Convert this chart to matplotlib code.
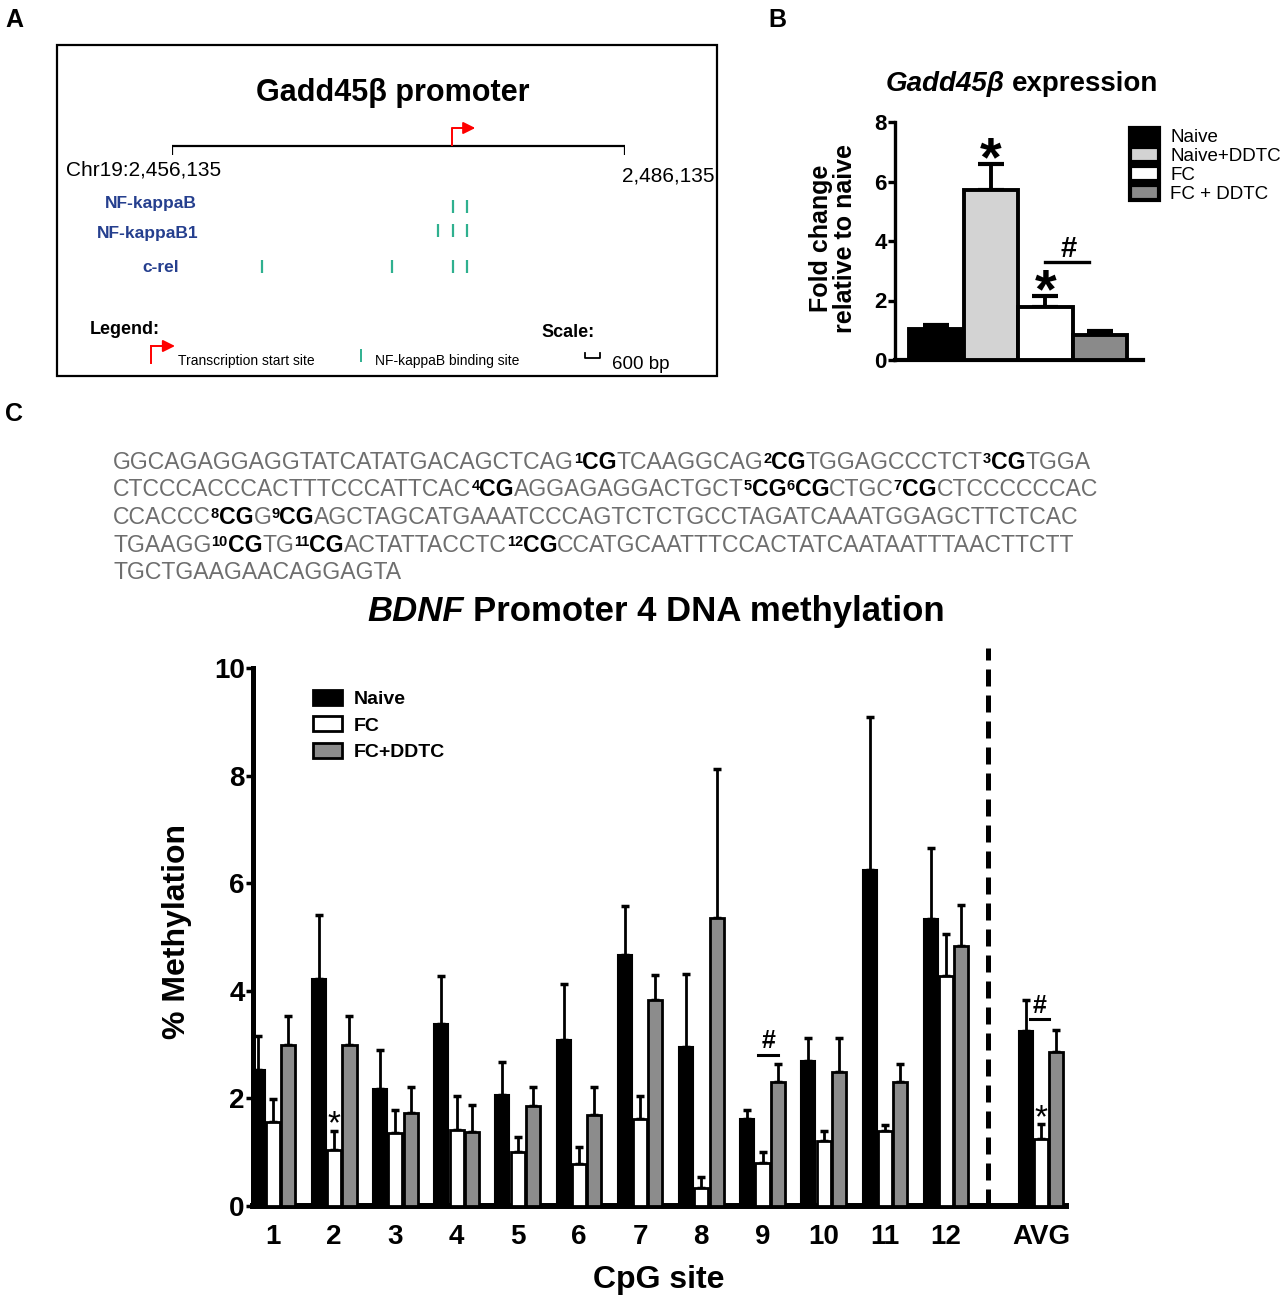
import re
import matplotlib
matplotlib.use('Agg')
import matplotlib.pyplot as plt
import matplotlib.transforms as mtransforms
from matplotlib.patches import Patch, Rectangle
import numpy as np

plt.rcParams['font.family'] = ['Liberation Sans', 'DejaVu Sans']

W, H = 1287, 1300

# ---- A: Gadd45b promoter region (bp on chr19)
region = (2456135, 2486135)
tss = 2474670
scale_bp = 600
nfkb_sites = [2474740, 2475670]
nfkb1_sites = [2473750, 2474740, 2475670]
crel_sites = [2462095, 2470700, 2474740, 2475670]
track_names = ['NF-kappaB', 'NF-kappaB1', 'c-rel']

# ---- B: Gadd45b expression
b_groups = ['Naive', 'Naive+DDTC', 'FC', 'FC + DDTC']
b_mean = [1.05, 5.73, 1.77, 0.84]
b_sem = [0.11, 0.87, 0.38, 0.13]
b_colors = ['black', '#d3d3d3', 'white', '#8a8a8a']

# ---- C: BDNF promoter 4 methylation
cpg_labels = [str(i) for i in range(1, 13)] + ['AVG']
naive_mean = [2.52, 4.22, 2.18, 3.38, 2.07, 3.08, 4.66, 2.95, 1.61, 2.70, 6.25, 5.33, 3.25]
naive_sem = [0.64, 1.18, 0.72, 0.89, 0.61, 1.04, 0.92, 1.37, 0.18, 0.43, 2.83, 1.32, 0.58]
fc_mean = [1.56, 1.05, 1.36, 1.42, 1.00, 0.78, 1.62, 0.33, 0.79, 1.20, 1.40, 4.27, 1.25]
fc_sem = [0.43, 0.34, 0.43, 0.62, 0.28, 0.32, 0.43, 0.20, 0.21, 0.19, 0.11, 0.78, 0.28]
ddtc_mean = [3.00, 3.00, 1.73, 1.37, 1.85, 1.70, 3.83, 5.35, 2.30, 2.50, 2.30, 4.84, 2.86]
ddtc_sem = [0.54, 0.54, 0.49, 0.51, 0.37, 0.52, 0.46, 2.77, 0.34, 0.62, 0.34, 0.76, 0.42]
c_series = ['Naive', 'FC', 'FC+DDTC']

# [n] = superscript n followed by a bold CG
seq_lines = [
    "GGCAGAGGAGGTATCATATGACAGCTCAG[1]TCAAGGCAG[2]TGGAGCCCTCT[3]TGGA",
    "CTCCCACCCACTTTCCCATTCAC[4]AGGAGAGGACTGCT[5][6]CTGC[7]CTCCCCCCAC",
    "CCACCC[8]G[9]AGCTAGCATGAAATCCCAGTCTCTGCCTAGATCAAATGGAGCTTCTCAC",
    "TGAAGG[10]TG[11]ACTATTACCTC[12]CCATGCAATTTCCACTATCAATAATTTAACTTCTT",
    "TGCTGAAGAACAGGAGTA",
]

fig = plt.figure(figsize=(W / 100, H / 100), dpi=100)
ov = fig.add_axes([0, 0, 1, 1])
ov.set_xlim(0, W)
ov.set_ylim(H, 0)
ov.axis('off')
renderer = fig.canvas.get_renderer()


def px_axes(x0, y0, x1, y1):
    a = fig.add_axes([x0 / W, 1 - y1 / H, (x1 - x0) / W, (y1 - y0) / H])
    a.patch.set_alpha(0)
    return a


def rich_text(x, y, pieces, ha='left', gap=0.0):
    arts = []
    for s, kw in pieces:
        kw = dict(kw)
        dy = kw.pop('dy', 0)
        arts.append(ov.text(x, y - dy, s, va='baseline', ha='left', **kw))
    widths = [a.get_window_extent(renderer).width for a in arts]
    total = sum(widths) + gap * (len(arts) - 1)
    start = x - total / 2 if ha == 'center' else x
    for a, w in zip(arts, widths):
        a.set_x(start)
        start += w + gap


def star(ax, x, yc, size, weight='bold', k=0.45):
    tr = mtransforms.offset_copy(ax.transData, fig=fig, y=-k * size, units='points')
    ax.text(x, yc, '*', fontsize=size, ha='center', va='baseline', weight=weight,
            transform=tr, clip_on=False)


# panel letters
ov.text(5, 27, 'A', fontsize=18, weight='bold')
ov.text(768, 27, 'B', fontsize=18, weight='bold')
ov.text(5, 421, 'C', fontsize=18, weight='bold')

# ---------------- A
ov.add_patch(Rectangle((57, 45), 660, 331, fill=False, lw=1.6, ec='black'))
ov.text(393, 101, 'Gadd45β promoter', ha='center', va='baseline', fontsize=22, weight='bold')

ax_a = px_axes(172, 40, 625, 380)
ax_a.set_xlim(*region)
ax_a.set_ylim(380, 40)
ax_a.axis('off')
ax_a.hlines(146, *region, color='black', lw=1.6)
ax_a.vlines(region, 146, 155, color='black', lw=1.6)
ax_a.vlines(tss, 128, 146, color='red', lw=1.4)
ax_a.annotate('', xy=(tss + 1550, 128), xytext=(tss, 128),
              arrowprops=dict(arrowstyle='-|>', color='red', lw=1.4, mutation_scale=18,
                              shrinkA=0, shrinkB=0))
teal = '#2fb08f'
row_y = [206, 230, 266]
for sites, yc in zip([nfkb_sites, nfkb1_sites, crel_sites], row_y):
    ax_a.vlines(sites, yc - 6.5, yc + 6.5, color=teal, lw=1.6)

navy = '#253f8e'
for name, lx, ly in zip(track_names, [151, 148, 161], [208, 238, 272]):
    ov.text(lx, ly, name, ha='center', va='baseline', color=navy, fontsize=12.5, weight='bold')

ov.text(66, 175, f'Chr19:{region[0]:,}', fontsize=15, va='baseline')
ov.text(622, 182, f'{region[1]:,}', fontsize=15, va='baseline')

ov.text(90, 334, 'Legend:', fontsize=13, weight='bold', va='baseline')
ov.plot([151, 151], [363, 346], color='red', lw=1.4)
ov.annotate('', xy=(175, 346), xytext=(151, 346),
            arrowprops=dict(arrowstyle='-|>', color='red', lw=1.4, mutation_scale=18,
                            shrinkA=0, shrinkB=0))
ov.text(178, 365, 'Transcription start site', fontsize=10, va='baseline')
ov.vlines(361, 349, 362, color=teal, lw=1.4)
ov.text(375, 365, 'NF-kappaB binding site', fontsize=10, va='baseline')
ov.text(541, 337, 'Scale:', fontsize=13, weight='bold', va='baseline')
ov.plot([585, 585, 600, 600], [353, 358, 358, 353], color='black', lw=1.3)
ov.text(612, 369, f'{scale_bp} bp', fontsize=13.5, va='baseline')

# ---------------- B
rich_text(1022, 91, [('Gadd45β', dict(style='italic', weight='bold', fontsize=20)),
                     ('expression', dict(weight='bold', fontsize=20))], ha='center', gap=8)

ax_b = px_axes(895, 122, 1143, 360)
xb = np.arange(len(b_groups))
ax_b.bar(xb, b_mean, width=1.0, color=b_colors, edgecolor='black', linewidth=2.8, zorder=3)
ax_b.errorbar(xb, b_mean, yerr=[np.zeros(len(xb)), b_sem], fmt='none', ecolor='black',
              elinewidth=2.8, capsize=9.5, capthick=3, zorder=2)
ax_b.set_xlim(-0.757, 3.79)
ax_b.set_ylim(0, 8)
ax_b.set_yticks([0, 2, 4, 6, 8])
ax_b.set_xticks([])
for s in ['top', 'right']:
    ax_b.spines[s].set_visible(False)
ax_b.spines['left'].set_linewidth(2.4)
ax_b.spines['bottom'].set_linewidth(3)
ax_b.tick_params(axis='y', length=5, width=2.4, labelsize=16, pad=1)
for lab in ax_b.get_yticklabels():
    lab.set_fontweight('bold')
ax_b.set_ylabel('Fold change\nrelative to naive', fontsize=18, weight='bold', linespacing=1.0)
ax_b.yaxis.set_label_coords(-0.153, 0.512)

star(ax_b, 1, 7.05, 40)
star(ax_b, 2, 2.6, 40)
ax_b.plot([2.0, 2.8], [3.28, 3.28], color='black', lw=2.4, clip_on=False)
ax_b.text(2.42, 3.45, '#', ha='center', va='baseline', fontsize=21, weight='bold')

b_handles = [Patch(facecolor=c, edgecolor='black', linewidth=3) for c in b_colors]
ax_b.legend(b_handles, b_groups, loc='upper left', bbox_to_anchor=(0.948, 0.975),
            frameon=False, fontsize=13.5, handlelength=1.55, handleheight=0.85,
            handletextpad=0.6, labelspacing=0.05, borderaxespad=0, borderpad=0)

# ---------------- C sequence
seq_size = 16.6
sup_size = 10.5
gray = '#6e6e6e'
for i, line in enumerate(seq_lines):
    parts = re.split(r'\[(\d+)\]', line)
    pieces = []
    for j, p in enumerate(parts):
        if j % 2 == 0:
            if p:
                pieces.append((p, dict(fontsize=seq_size, color=gray)))
        else:
            pieces.append((p, dict(fontsize=sup_size, color='black', weight='bold', dy=6)))
            pieces.append(('CG', dict(fontsize=seq_size, color='black', weight='bold')))
    rich_text(113, 469 + i * 27.5, pieces, gap=0.0)

rich_text(656, 621, [('BDNF', dict(style='italic', weight='bold', fontsize=25)),
                     ('Promoter 4 DNA methylation', dict(weight='bold', fontsize=25))],
          ha='center', gap=9)

# ---------------- C bars
ax_c = px_axes(253, 668, 1066, 1206)
xc = np.r_[np.arange(1, 13), 13.55]
bw, off = 0.23, 0.25
ax_c.bar(xc - off, naive_mean, bw, color='black', edgecolor='black', linewidth=1.5, zorder=3)
ax_c.bar(xc, fc_mean, bw, color='white', edgecolor='black', linewidth=2, zorder=3)
ax_c.bar(xc + off, ddtc_mean, bw, color='#8c8c8c', edgecolor='black', linewidth=2, zorder=3)
for dx, m, e in [(-off, naive_mean, naive_sem), (0, fc_mean, fc_sem), (off, ddtc_mean, ddtc_sem)]:
    ax_c.errorbar(xc + dx, m, yerr=[np.zeros(len(m)), e], fmt='none', ecolor='black',
                  elinewidth=2, capsize=3, capthick=2.5, zorder=2)

ax_c.set_xlim(0.673, 13.96)
ax_c.set_ylim(0, 10)
ax_c.set_yticks(range(0, 11, 2))
ax_c.set_xticks(xc)
ax_c.set_xticklabels(cpg_labels)
for s in ['top', 'right']:
    ax_c.spines[s].set_visible(False)
ax_c.spines['left'].set_linewidth(3.6)
ax_c.spines['bottom'].set_linewidth(4.3)
ax_c.tick_params(axis='y', length=5, width=2.5, labelsize=20, pad=1)
ax_c.tick_params(axis='x', length=0, labelsize=20, pad=13)
for lab in ax_c.get_xticklabels() + ax_c.get_yticklabels():
    lab.set_fontweight('bold')
ax_c.set_ylabel('% Methylation', fontsize=23, weight='bold')
ax_c.yaxis.set_label_coords(-0.075, 0.511)
ax_c.set_xlabel('CpG site', fontsize=23, weight='bold')
ax_c.xaxis.set_label_coords(0.4994, -0.11)

ax_c.axvline(12.68, ymin=0, ymax=1.037, color='black', lw=3.6,
             linestyle=(0, (3.4, 1.8)), clip_on=False)

star(ax_c, 2, 1.69, 24, weight='normal', k=0.55)
star(ax_c, 13.55, 1.81, 24, weight='normal', k=0.55)
ax_c.plot([8.93, 9.26], [2.8, 2.8], color='black', lw=2.2)
ax_c.text(9.1, 2.93, '#', ha='center', va='baseline', fontsize=18, weight='bold')
ax_c.plot([13.37, 13.69], [3.48, 3.48], color='black', lw=2.2)
ax_c.text(13.53, 3.59, '#', ha='center', va='baseline', fontsize=18, weight='bold')

c_handles = [Patch(facecolor='black', edgecolor='black', linewidth=2),
             Patch(facecolor='white', edgecolor='black', linewidth=2),
             Patch(facecolor='#8c8c8c', edgecolor='black', linewidth=2)]
ax_c.legend(c_handles, c_series, loc='upper left', bbox_to_anchor=(0.074, 0.959),
            frameon=False, prop=dict(weight='bold', size=14), handlelength=1.5,
            handleheight=0.8, handletextpad=0.6, labelspacing=0.42,
            borderaxespad=0, borderpad=0)

fig.savefig('out.png', dpi=100)
